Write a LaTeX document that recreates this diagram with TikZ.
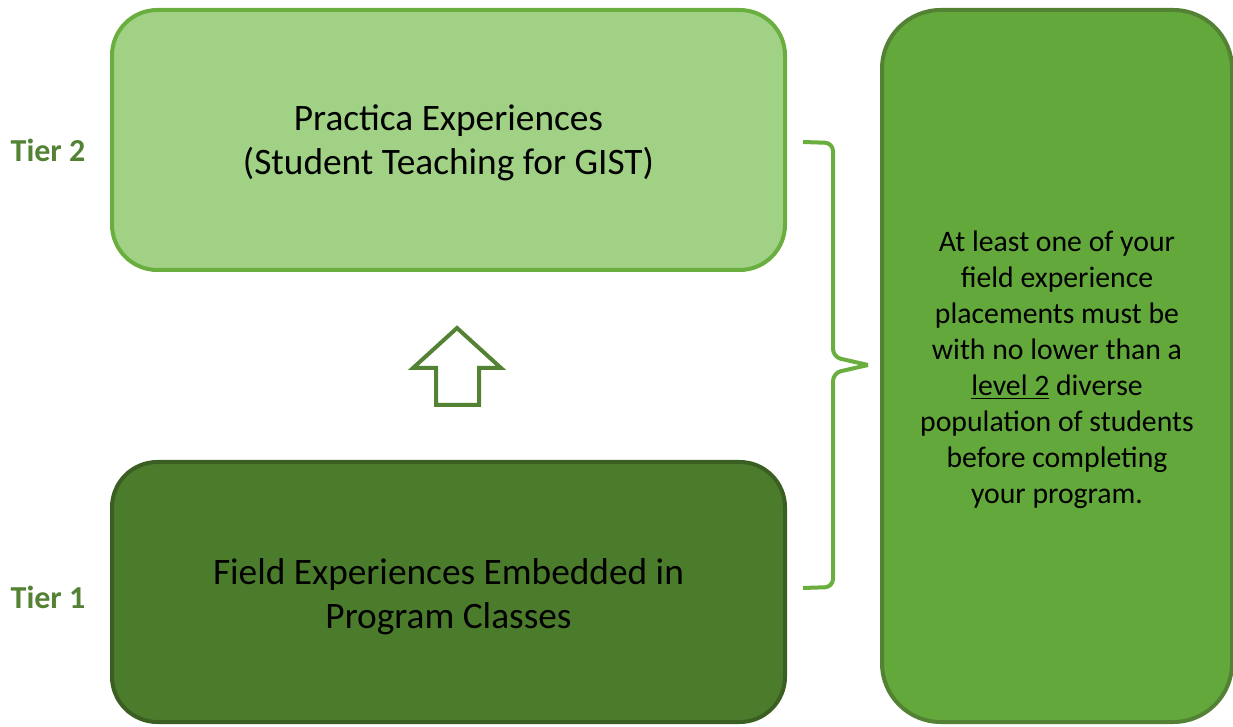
\documentclass[tikz,border=0pt]{standalone}
\usepackage{fontspec}
\setmainfont{Carlito}
\usetikzlibrary{positioning}
\definecolor{lightfill}{RGB}{160,209,132}
\definecolor{lightline}{RGB}{106,174,63}
\definecolor{darkfill}{RGB}{75,124,44}
\definecolor{darkline}{RGB}{59,94,34}
\definecolor{midfill}{RGB}{99,168,59}
\definecolor{midline}{RGB}{84,130,53}

\begin{document}
\begin{tikzpicture}[x=0.75pt,y=-0.75pt,
    tierbox/.style={rectangle, rounded corners=34pt, line width=3pt, minimum width=673*0.75pt, minimum height=260*0.75pt, align=center, font=\fontsize{28}{33}\selectfont},
    tierlabel/.style={text=midline, font=\fontsize{24}{28}\selectfont\bfseries},
    notebox/.style={rectangle, rounded corners=44pt, line width=3pt, draw=midline, fill=midfill, minimum width=350*0.75pt, minimum height=712*0.75pt}]
        \useasboundingbox (0,0) rectangle (1233,727);
        \node[tierbox, draw=lightline, fill=lightfill] (tiertwo) at (448.5,140) {};
        \node[align=center, font=\fontsize{28}{33}\selectfont] (tiertwotext) at (448.5,143) {Practica Experiences\\(Student Teaching for GIST)};
        \node[tierbox, draw=darkline, fill=darkfill] (tierone) at (448.5,592) {};
        \node[align=center, font=\fontsize{28}{33}\selectfont] (tieronetext) at (448.5,597) {Field Experiences Embedded in\\Program Classes};
        \node[tierlabel] (labeltwo) at (48,150) {Tier 2};
        \node[tierlabel] (labelone) at (48,597) {Tier 1};
        \node[notebox] (note) at (1057,366) {};
        \node[align=center, font=\fontsize{22.3}{27}\selectfont] (notetext) at (1057,370) {At least one of your\\field experience\\placements must be\\with no lower than a\\\underline{level 2} diverse\\population of students\\before completing\\your program.};
        % up arrow between the tiers
        \draw[midline, line width=3pt, line join=miter] (457,328) -- (501,368) -- (479,368) -- (479,405) -- (436,405) -- (436,368) -- (413,368) -- cycle;
        % brace
        \draw[lightline, line width=3pt, rounded corners=6pt] (803,142) -- (833,143) -- (833,357) -- (868,365);
        \draw[lightline, line width=3pt, rounded corners=6pt] (868,365) -- (833,373) -- (833,587) -- (803,588);
\end{tikzpicture}
\end{document}
